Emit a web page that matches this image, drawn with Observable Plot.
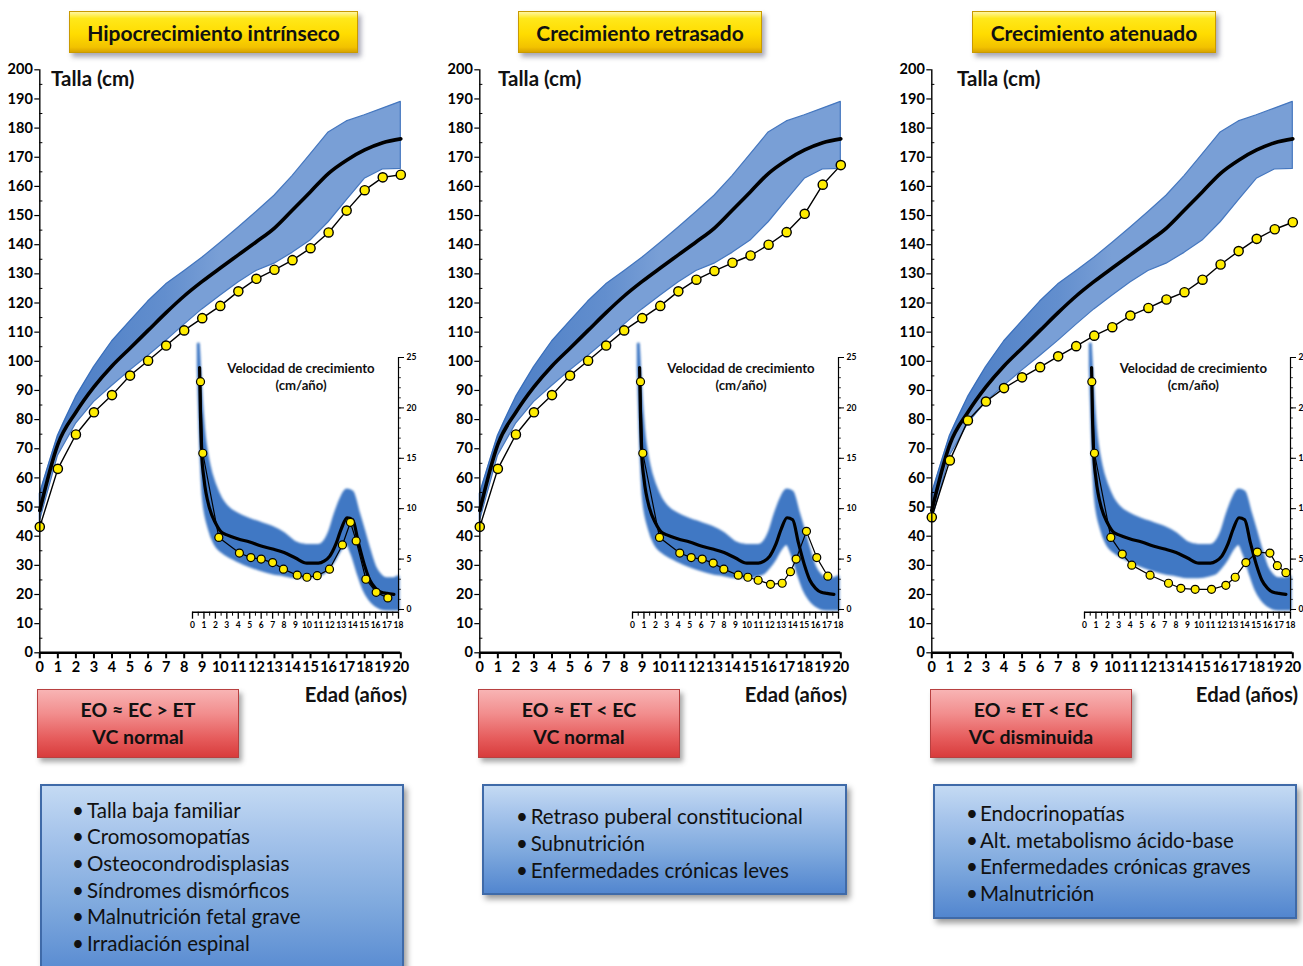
<!DOCTYPE html>
<html><head><meta charset="utf-8">
<script src="https://cdn.jsdelivr.net/npm/d3@7"></script>
<script src="https://cdn.jsdelivr.net/npm/@observablehq/plot@0.6"></script>
<style>
body{margin:0;background:#fff;}
#page{position:relative;width:1303px;height:966px;overflow:hidden;background:#fff;font-family:Lato,'Open Sans',sans-serif;color:#111;}
.abs{position:absolute;box-sizing:border-box;}
.ybox{display:flex;align-items:center;justify-content:center;font-weight:bold;font-size:21px;
 background:linear-gradient(180deg,#fff6a0 0%,#ffe81a 16%,#ffdc00 55%,#f2c200 88%,#d9a400 100%);
 border:1px solid #c99a00;box-shadow:3px 4px 5px rgba(60,60,90,.45);}
.rbox{display:flex;flex-direction:column;align-items:center;justify-content:center;font-weight:bold;font-size:19.5px;line-height:26.3px;
 background:linear-gradient(180deg,#f8b4b4 0%,#f28e8e 35%,#e65c5c 72%,#d83c3c 100%);
 border:1px solid #b84040;box-shadow:3px 4px 5px rgba(60,60,60,.45);}
.bbox{background:linear-gradient(180deg,#c4daf3 0%,#a6c4eb 25%,#80aade 60%,#5286cf 100%);
 border:2px solid #3f6aa8;box-shadow:3px 4px 6px rgba(0,0,0,.4);}
.bl{position:absolute;font-size:20.5px;line-height:26.6px;white-space:nowrap;}
.lbl{position:absolute;font-weight:bold;white-space:nowrap;}
.plotwrap{position:absolute;}
</style></head><body><div id="page"></div>
<script>
// ---------------- DATA ----------------
const titulos = ["Hipocrecimiento intrínseco", "Crecimiento retrasado", "Crecimiento atenuado"];
const edadOseaLinea = ["EO ≈ EC > ET", "EO ≈ ET < EC", "EO ≈ ET < EC"];
const velocidadLinea = ["VC normal", "VC normal", "VC disminuida"];
const causas1 = ["Talla baja familiar", "Cromosomopatías", "Osteocondrodisplasias", "Síndromes dismórficos", "Malnutrición fetal grave", "Irradiación espinal"];
const causas2 = ["Retraso puberal constitucional", "Subnutrición", "Enfermedades crónicas leves"];
const causas3 = ["Endocrinopatías", "Alt. metabolismo ácido-base", "Enfermedades crónicas graves", "Malnutrición"];

// Talla (cm) reference by age (years)
const edades = [0,1,2,3,4,5,6,7,8,9,10,11,12,13,14,15,16,17,18,19,20];
const tallaP50 = [48.8,71.5,82.5,91.2,98.4,104.5,110.6,116.7,122.4,127.4,132,136.5,141,145.7,151.9,158.2,164.5,169,172.5,175,176.3];
const tallaSup = [54.5,74.5,87.7,98,106.8,113.7,120.5,126.4,130.9,135.5,140.6,145.8,151.2,156.8,163.5,171,178.5,182.3,184.4,186.7,189];
const tallaInf = [45,67.5,78.5,86,91.5,96.8,101.8,107,112.5,117.8,122.5,127,131,133.5,137.2,141.4,147.7,155.2,162.6,165.8,166];

// Patient heights (cm) by age
const tallaPac1 = [43.2,63.1,74.9,82.5,88.4,95.1,100.2,105.4,110.6,114.8,119,124,128.3,131.4,134.7,138.8,144.2,151.7,158.7,163.1,164];
const tallaPac2 = [43.2,63.1,74.9,82.5,88.4,95.1,100.2,105.4,110.6,114.8,119,124,128,131,133.8,136.3,140,144.3,150.6,160.6,167.3];
const tallaPac3 = [46.5,66,79.7,86.2,90.8,94.5,98,101.7,105.2,108.8,111.7,115.7,118.3,121.2,123.7,128,133.2,137.8,142,145.3,147.7];

// Velocidad de crecimiento (cm/año) reference band
const velBandaEdad = [0.55,0.75,1.0,1.5,2,2.5,3,4,5,6,7,8,9,10,11,11.5,12,12.5,13,13.5,14,14.5,15,15.5,16,16.5,17,17.6,18];
const velSup = [26.3,22,18,14.2,12.3,11,10.2,9.4,8.9,8.5,8.1,7.5,6.6,6.3,6.3,6.6,7.6,9.4,10.9,11.8,11.6,9.7,7.8,5.8,4.1,3.3,3.0,3.0,3.2];
const velInf = [24,16.5,11,8,6.5,5.8,5.4,4.8,4.3,3.9,3.6,3.4,3.2,3.2,3.4,3.6,4.2,5.0,6.0,6.5,5.4,3.6,2.0,1.0,0.4,0.1,0,0,0];
const velMedEdad = [0.62,0.7,0.8,1.0,1.5,2,2.5,3,4,5,6,7,8,9,10,11,11.5,12,12.5,13,13.5,14,14.5,15,15.5,16,16.5,17,17.6];
const velP50 = [24,19,15.5,13,10,8.6,7.7,7.4,7.0,6.7,6.3,6.0,5.65,5.1,4.6,4.6,4.8,5.3,6.4,8.0,9.1,8.9,6.6,4.5,2.9,2.1,1.7,1.6,1.5];

// Patient velocities
const velPac1Edad = [0.7,0.9,2.3,4.1,5.1,6.0,7.0,7.95,9.15,10.0,10.9,11.97,13.1,13.8,14.3,15.15,16.05,17.07];
const velPac1 = [22.6,15.5,7.15,5.6,5.15,5.0,4.65,4.0,3.4,3.2,3.35,4.0,6.4,8.65,6.8,3.0,1.7,1.15];
const velPac2Edad = [0.7,0.9,2.36,4.13,5.13,6.09,7.05,7.98,9.24,10.08,10.98,12.06,13.08,13.8,14.3,15.2,16.1,17.07];
const velPac2 = [22.6,15.5,7.15,5.6,5.15,5.0,4.6,4.0,3.4,3.2,2.9,2.5,2.6,3.75,5.0,7.75,5.15,3.3];
const velPac3Edad = [0.64,0.87,2.3,3.3,4.13,5.73,7.34,8.42,9.67,11.1,12.35,13.17,14.1,15.1,16.2,16.85,17.6];
const velPac3 = [22.6,15.5,7.15,5.5,4.4,3.4,2.6,2.1,2.0,2.0,2.4,3.2,4.65,5.7,5.6,4.35,3.65];

const ticksTalla = d3.range(0, 201, 10);
const ticksEdad = d3.range(0, 21, 1);
const ticksVel = [0, 5, 10, 15, 20, 25];
const ticksEdadVel = d3.range(0, 19, 1);

// ---------------- LAYOUT ----------------
const page = document.getElementById("page");
const panelX = [0, 440, 892.4];
const yBox = [[69, 289], [518, 244], [972, 244]];
const rBox = [[37, 202], [478, 202], [930, 202]];
const bBox = [[40, 364, 200, 12.7, 32, 47], [482, 365, 111, 19.4, 34, 48.7], [933, 364, 135, 16, 33, 47]];
const tallaLbl = [51, 498, 957];
const edadLbl = [407, 847, 1298];
const causas = [causas1, causas2, causas3];
const pacTalla = [tallaPac1, tallaPac2, tallaPac3];
const pacVel = [[velPac1Edad, velPac1], [velPac2Edad, velPac2], [velPac3Edad, velPac3]];

function div(cls, l, t, w, h, html) {
  const d = document.createElement("div");
  d.className = "abs " + cls;
  d.style.left = l + "px"; d.style.top = t + "px";
  if (w != null) d.style.width = w + "px";
  if (h != null) d.style.height = h + "px";
  d.innerHTML = html;
  page.appendChild(d);
  return d;
}

const refTalla = edades.map((e, i) => ({edad: e, p50: tallaP50[i], sup: tallaSup[i], inf: tallaInf[i]}));
const velBanda = velBandaEdad.map((e, i) => ({edad: e, sup: velSup[i], inf: velInf[i]}));
const velMed = velMedEdad.map((e, i) => ({edad: e, v: velP50[i]}));

const font = "Lato, 'Open Sans', sans-serif";

for (let p = 0; p < 3; p++) {
  const ox = panelX[p];
  // title
  div("ybox", yBox[p][0], 11, yBox[p][1], 42, titulos[p]);

  // main chart
  const pac = edades.map((e, i) => ({edad: e, talla: pacTalla[p][i]}));
  const main = Plot.plot({
    width: 440, height: 620,
    marginLeft: 39.3, marginRight: 39.7, marginTop: 9.3, marginBottom: 27.7,
    x: {domain: [0, 20], axis: null},
    y: {domain: [0, 200], axis: null},
    style: {background: "transparent", overflow: "visible", fontFamily: font, fontWeight: "bold", color: "#000"},
    marks: [
      Plot.areaY(refTalla, {x: "edad", y1: "inf", y2: "sup", fill: "#4f81c9", fillOpacity: 0.76, stroke: "#4577bf", strokeWidth: 1.2}),
      Plot.areaY(refTalla, {x: "edad", y1: "p50", y2: "sup", fill: "url(#dark" + p + ")", curve: "monotone-x"}),
      Plot.line(refTalla, {x: "edad", y: "p50", stroke: "#000", strokeWidth: 3.6, curve: "monotone-x"}),
      Plot.line(pac, {x: "edad", y: "talla", stroke: "#000", strokeWidth: 1.4}),
      Plot.dot(pac, {x: "edad", y: "talla", r: 4.6, fill: "#ffec00", stroke: "#000", strokeWidth: 1.4}),
      Plot.ruleX([0], {y1: 0, y2: 200, strokeWidth: 1.4}),
      Plot.ruleY(d3.range(5, 200, 10), {x1: 0, x2: 0.17, strokeWidth: 1}),
      Plot.axisY({ticks: ticksTalla, label: null, tickSize: 5, tickPadding: 2, fontSize: 14.5, fontWeight: "bold", strokeWidth: 1.2}),
      Plot.ruleY([0], {x1: 0, x2: 20, strokeWidth: 2.4}),
      Plot.axisX({ticks: ticksEdad, label: null, tickSize: 6, tickPadding: 3, fontSize: 14.5, fontWeight: "bold", strokeWidth: 2})
    ]
  });
  const dm = d3.select(main);
  const defs = dm.insert("defs", ":first-child");
  const g = defs.append("linearGradient").attr("id", "dark" + p).attr("x1", 0).attr("x2", 1).attr("y1", 0).attr("y2", 0);
  g.append("stop").attr("offset", "0%").attr("stop-color", "#1f5db5").attr("stop-opacity", 0.55);
  g.append("stop").attr("offset", "35%").attr("stop-color", "#1f5db5").attr("stop-opacity", 0.25);
  g.append("stop").attr("offset", "50%").attr("stop-color", "#1f5db5").attr("stop-opacity", 0);
  const w1 = div("plotwrap", ox, 60, 440, 620, "");
  w1.appendChild(main);

  div("lbl", tallaLbl[p], 66, null, null, "<span style='font-size:20.5px'>Talla (cm)</span>");

  // inset
  const [pe, pv] = pacVel[p];
  const pacV = pe.map((e, i) => ({edad: e, v: pv[i]}));
  const inset = Plot.plot({
    width: 260, height: 310,
    marginLeft: 22, marginRight: 32, marginTop: 27, marginBottom: 28.3,
    x: {domain: [0, 18], axis: null},
    y: {domain: [-0.27, 25], axis: null},
    style: {background: "transparent", overflow: "visible", fontFamily: font, fontWeight: "bold", color: "#000"},
    marks: [
      Plot.areaY(velBanda, {x: "edad", y1: "inf", y2: "sup", fill: "#3f78c4", stroke: "#3f78c4", strokeWidth: 3, strokeLinejoin: "round", curve: "monotone-x"}),
      Plot.line(velMed, {x: "edad", y: "v", stroke: "#000", strokeWidth: 3.2, curve: "monotone-x"}),
      Plot.line(pacV, {x: "edad", y: "v", stroke: "#000", strokeWidth: 1.2}),
      Plot.dot(pacV, {x: "edad", y: "v", r: 4, fill: "#ffec00", stroke: "#000", strokeWidth: 1.2}),
      Plot.ruleY([-0.27], {x1: 0, x2: 18, strokeWidth: 1.6}),
      Plot.ruleX([18], {y1: -0.27, y2: 25, strokeWidth: 1.2}),
      Plot.axisX({ticks: ticksEdadVel, label: null, tickSize: 7, tickPadding: 3, fontSize: 8.5, fontWeight: "bold", strokeWidth: 1.3}),
      Plot.axisX({ticks: d3.range(0.5, 18, 1), label: null, tickSize: 4, tickFormat: () => "", strokeWidth: 1}),
      Plot.axisY({anchor: "right", label: null, ticks: ticksVel, tickSize: 5, tickPadding: 3, fontSize: 8.5, fontWeight: "bold", strokeWidth: 1}),
      Plot.ruleY(d3.range(1, 25, 1), {x1: 18, x2: 18.25, strokeWidth: 0.8})
    ]
  });
  const di = d3.select(inset);
  const fdefs = di.insert("defs", ":first-child");
  fdefs.append("filter").attr("id", "blur" + p).attr("x", "-10%").attr("y", "-10%").attr("width", "120%").attr("height", "120%")
    .append("feGaussianBlur").attr("stdDeviation", 1.3);
  di.selectAll('g[aria-label="area"]').attr("filter", "url(#blur" + p + ")");
  const w2 = div("plotwrap", ox + 170, 330, 260, 310, "");
  w2.appendChild(inset);

  div("lbl", ox + 301 - 100, 360, 200, null, "<div style='text-align:center;font-size:13.2px;line-height:17px'>Velocidad de crecimiento<br>(cm/año)</div>");

  // Edad label
  div("lbl", edadLbl[p] - 200, 682, 200, null, "<div style='text-align:right;font-size:20.3px'>Edad (años)</div>");

  // red box
  div("rbox", rBox[p][0], 689, rBox[p][1], 69, "<div>" + edadOseaLinea[p] + "</div><div>" + velocidadLinea[p] + "</div>");

  // blue box
  const [bl, bw, bh, pt, bx, tx] = bBox[p];
  div("bbox", bl, 784, bw, bh, "");
  causas[p].forEach((c, i) => {
    const top = 784 + pt + i * 26.6;
    div("bl", bl + bx, top, null, null, "•");
    div("bl", bl + tx, top, null, null, c);
  });
}
</script></body></html>
